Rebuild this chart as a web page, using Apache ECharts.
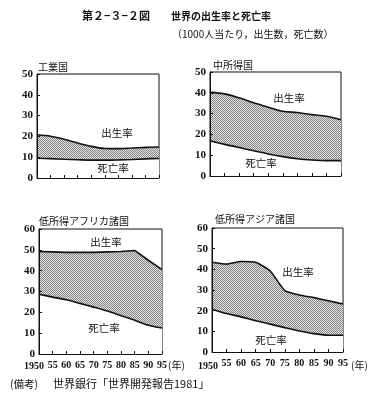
<!DOCTYPE html>
<html><head><meta charset="utf-8">
<script src="https://cdn.jsdelivr.net/npm/echarts@6/dist/echarts.min.js"></script>
<style>html,body{margin:0;padding:0;background:#fff}#c{width:374px;height:406px}</style>
</head><body><div id="c"></div>
<script>
const years = [1950,1955,1960,1965,1970,1975,1980,1985,1990,1995];
const xTickLabels = ['1950','55','60','65','70','75','80','85','90','95'];
const panelTitles = ['工業国','中所得国','低所得アフリカ諸国','低所得アジア諸国'];
const industrialBirth = [20.8,20.1,18.6,16.8,15.2,14.2,14.1,14.4,14.7,14.9];
const industrialDeath = [9.5,9.3,9.0,8.8,8.6,8.6,8.7,8.9,9.2,9.4];
const middleBirth = [40.2,39.5,37.6,35.2,33.1,31.1,30.5,29.5,28.7,27.0];
const middleDeath = [16.9,15.2,13.7,12.1,10.6,9.3,8.3,7.7,7.4,7.4];
const africaBirth = [49.2,49.0,48.8,48.8,48.8,49.0,49.2,49.7,45.0,40.5];
const africaDeath = [28.7,27.3,26.0,24.3,22.5,20.6,18.4,16.2,13.8,12.5];
const asiaBirth = [43.4,42.5,43.8,43.4,39.2,29.7,27.6,26.3,24.8,23.2];
const asiaDeath = [20.7,18.6,17.0,15.1,13.5,11.8,10.2,8.9,8.1,8.1];
const yMaxes = [50,50,60,60];
const births = [industrialBirth, middleBirth, africaBirth, asiaBirth];
const deaths = [industrialDeath, middleDeath, africaDeath, asiaDeath];

const grids = [
  {left:37, top:74, width:122, height:104},
  {left:210, top:72, width:131, height:104},
  {left:39, top:229, width:123, height:125},
  {left:212, top:228, width:131, height:124}
];
const birthSmooth = [0.3, 0.3, 0, 0.15];

function makePattern(){
  const c = document.createElement('canvas'); c.width = 2; c.height = 2;
  const g = c.getContext('2d');
  g.fillStyle = '#e2e2e2'; g.fillRect(0,0,2,2);
  g.fillStyle = '#858585'; g.fillRect(0,0,1,1); g.fillRect(1,1,1,1);
  return c;
}
const pat = {image: makePattern(), repeat: 'repeat'};
const ink = '#111';
const CJK = '"Noto Sans CJK JP", sans-serif';
const SERIF = '"Liberation Serif", serif';

const xAxis = [], yAxis = [], series = [];
for (let i = 0; i < 4; i++) {
  xAxis.push({
    type:'value', gridIndex:i, min:1950, max:1995, interval:5, z:5,
    axisLine:{show:true, lineStyle:{color:ink, width:1}},
    axisTick:{show:true, inside:true, length:3, lineStyle:{color:ink}},
    axisLabel:{show: i >= 2, showMinLabel:false, showMaxLabel:true,
      formatter: v => (v === years[0] ? '' : (xTickLabels[years.indexOf(v)] || '')),
      fontFamily:SERIF, fontWeight:'bold', fontSize:10, color:ink, margin:6},
    splitLine:{show:false}
  });
  yAxis.push({
    type:'value', gridIndex:i, min:0, max:yMaxes[i], interval:10, z:5,
    axisLine:{show:true, lineStyle:{color:ink, width:1}},
    axisTick:{show:true, inside:true, length:3, lineStyle:{color:ink}},
    axisLabel:{fontFamily:SERIF, fontWeight:'bold', fontSize:11, color:ink, margin:4},
    splitLine:{show:false}
  });
  series.push({
    type:'line', xAxisIndex:i, yAxisIndex:i, symbol:'none', smooth:birthSmooth[i], z:2,
    data: years.map((y,k) => [y, births[i][k]]),
    lineStyle:{color:ink, width:1.6},
    areaStyle:{color:pat, opacity:1}
  });
  series.push({
    type:'line', xAxisIndex:i, yAxisIndex:i, symbol:'none', smooth:0.3, z:3,
    data: years.map((y,k) => [y, deaths[i][k]]),
    lineStyle:{color:ink, width:1.6},
    areaStyle:{color:'#fff', opacity:1}
  });
}

function txt(x, y, s, size, opts) {
  return Object.assign({type:'text', x:x, y:y, silent:true, z:10,
    style:Object.assign({text:s, fontSize:size, fontFamily:CJK, fill:ink,
      textAlign:'left', textVerticalAlign:'middle'}, opts || {})});
}
const graphics = [
  txt(82, 16, '第２−３−２図', 11, {fontWeight:'bold'}),
  txt(171, 16, '世界の出生率と死亡率', 10, {fontWeight:'bold'}),
  txt(172, 34, '（1000人当たり，出生数，死亡数）', 10),
  txt(38, 67, panelTitles[0], 10),
  txt(213, 65, panelTitles[1], 10),
  txt(39, 221, panelTitles[2], 10),
  txt(215, 219, panelTitles[3], 10),
  txt(117, 133, '出生率', 10.5, {textAlign:'center'}),
  txt(113, 168, '死亡率', 10.5, {textAlign:'center'}),
  txt(289, 98, '出生率', 10.5, {textAlign:'center'}),
  txt(261, 163, '死亡率', 10.5, {textAlign:'center'}),
  txt(106, 242, '出生率', 10.5, {textAlign:'center'}),
  txt(104, 328, '死亡率', 10.5, {textAlign:'center'}),
  txt(298, 272, '出生率', 10.5, {textAlign:'center'}),
  txt(271, 340, '死亡率', 10.5, {textAlign:'center'}),
  txt(34, 366, xTickLabels[0], 10, {textAlign:'center', fontFamily:SERIF, fontWeight:'bold'}),
  txt(208, 366, xTickLabels[0], 10, {textAlign:'center', fontFamily:SERIF, fontWeight:'bold'}),
  txt(168, 365, '(年)', 10),
  txt(351, 365, '(年)', 10),
  txt(10, 384, '(備考)', 10.5),
  txt(53, 384, '世界銀行「世界開発報告1981」', 11)
];

const chart = echarts.init(document.getElementById('c'), null, {renderer:'canvas'});
chart.setOption({
  animation:false,
  backgroundColor:'#fff',
  grid: grids.map(g => Object.assign({show:true, borderColor:ink, borderWidth:1, backgroundColor:'transparent'}, g)),
  xAxis: xAxis, yAxis: yAxis, series: series,
  graphic: graphics
});
</script></body></html>
